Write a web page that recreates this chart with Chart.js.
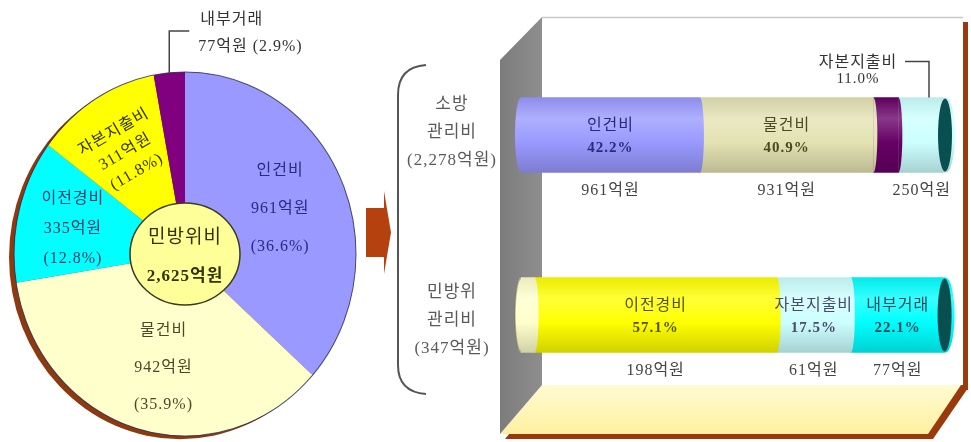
<!DOCTYPE html>
<html lang="ko">
<head>
<meta charset="utf-8">
<title>민방위비 세출 구성</title>
<script src="https://cdn.jsdelivr.net/npm/chart.js@4.4.1/dist/chart.umd.min.js"></script>
<style>
  html, body { margin: 0; padding: 0; background: #fff; }
  #wrap { position: relative; width: 971px; height: 442px; overflow: hidden; }
  #wrap canvas { position: absolute; left: 0; top: 0; }
</style>
</head>
<body>
<div id="wrap">
  <canvas id="barChart" width="971" height="442"></canvas>
  <canvas id="pieChart" width="380" height="442"></canvas>
</div>
<script>
// 민방위비 총괄 (억원)
const pieLabels = ['인건비', '물건비', '이전경비', '자본지출비', '내부거래'];
const pieValues = [961, 942, 335, 311, 77];
const piePercents = [36.6, 35.9, 12.8, 11.8, 2.9];
const pieColors = ['#9999FF', '#FFFFCC', '#00FFFF', '#FFFF00', '#800080'];
const pieTotal = 2625;

// 관리비별 구성비 (%)
const barCategories = ['소방관리비', '민방위관리비'];
const barTitles = [['소방', '관리비'], ['민방위', '관리비']];
const barTotals = [2278, 347];

const fireSegments = ['인건비', '물건비', '내부거래', '자본지출비'];
const firePercents = [42.2, 40.9, 5.9, 11.0];
const fireAmounts = [961, 931, 136, 250];
const fireColors = ['#9999FF', '#E4E2B2', '#660066', '#CCFFFF'];

const civilSegments = ['물건비', '이전경비', '자본지출비', '내부거래'];
const civilPercents = [3.2, 57.1, 17.5, 22.1];
const civilAmounts = [11, 198, 61, 77];
const civilColors = ['#FFFFCC', '#FFFF00', '#CCFFFF', '#00FFFF'];

const FONT = "'Liberation Serif', 'Noto Sans CJK KR', serif";
const pieStretch = 1.064;   // 원형을 세로로 약간 늘림

const fmt = n => n.toLocaleString('en-US');

function shade(hex, amt) {
    let r = parseInt(hex.slice(1, 3), 16), g = parseInt(hex.slice(3, 5), 16), b = parseInt(hex.slice(5, 7), 16);
    const t = amt > 0 ? 255 : 0, p = Math.abs(amt);
    r = Math.round(r + (t - r) * p); g = Math.round(g + (t - g) * p); b = Math.round(b + (t - b) * p);
    return `rgb(${r},${g},${b})`;
}

function drawLines(ctx, lines, x, y, gap, font, color) {
    ctx.font = font;
    ctx.fillStyle = color;
    ctx.textAlign = 'center';
    ctx.textBaseline = 'middle';
    const start = y - gap * (lines.length - 1) / 2;
    lines.forEach((t, i) => ctx.fillText(t, x, start + i * gap));
}

// ---------- 원그래프 ----------
const pieLabelRadius = [0.61, 0.64, 0.67, 0.66];
const pieLabelTurn = [0, -5, -2, 0];
const pieLabelGap = [38, 37, 30, 23];
const pieLabelTilt = [0, 0, 0, -30];
const pieTextColors = ['#2A2A80', '#4A4A2A', '#1E3A66', '#333300'];

const pieDecor = {
    id: 'pieDecor',
    beforeDatasetsDraw(chart) {
        const arc = chart.getDatasetMeta(0).data[0];
        const ctx = chart.ctx;
        ctx.save();
        ctx.translate(arc.x, arc.y);
        ctx.scale(1, pieStretch);
        ctx.translate(-arc.x, -arc.y);
        // 왼쪽 아래 갈색 테두리
        ctx.beginPath();
        ctx.arc(arc.x - 5, arc.y + 3, arc.outerRadius, 0, Math.PI * 2);
        ctx.fillStyle = '#8E3A10';
        ctx.fill();
    },
    afterDatasetsDraw(chart) {
        const meta = chart.getDatasetMeta(0);
        const arc = meta.data[0];
        const ctx = chart.ctx;
        const cx = arc.x, cy = arc.y, R = arc.outerRadius;
        ctx.beginPath();
        ctx.arc(cx, cy, R, 0, Math.PI * 2);
        ctx.lineWidth = 1;
        ctx.strokeStyle = 'rgba(40,40,80,0.8)';
        ctx.stroke();
        ctx.restore();

        // 가운데 원
        ctx.save();
        ctx.beginPath();
        ctx.ellipse(cx, cy, 55, 51, 0, 0, Math.PI * 2);
        ctx.fillStyle = '#FFFF99';
        ctx.fill();
        ctx.lineWidth = 1.5;
        ctx.strokeStyle = '#3A3A20';
        ctx.stroke();
        ctx.letterSpacing = '1px';
        drawLines(ctx, ['민방위비'], cx, cy - 16, 0, `19px ${FONT}`, '#333300');
        drawLines(ctx, [fmt(pieTotal) + '억원'], cx, cy + 23, 0, `bold 17px ${FONT}`, '#333300');

        // 조각 안 라벨
        meta.data.forEach((el, i) => {
            if (i > 3) return;
            const mid = (el.startAngle + el.endAngle) / 2 + pieLabelTurn[i] * Math.PI / 180;
            const r = R * pieLabelRadius[i];
            const px = cx + Math.cos(mid) * r;
            const py = cy + Math.sin(mid) * r * pieStretch;
            ctx.save();
            ctx.translate(px, py);
            ctx.rotate(pieLabelTilt[i] * Math.PI / 180);
            drawLines(ctx, [pieLabels[i], pieValues[i] + '억원', `(${piePercents[i]}%)`],
                0, 0, pieLabelGap[i], `16px ${FONT}`, pieTextColors[i]);
            ctx.restore();
        });

        // 내부거래: 바깥 라벨과 지시선
        const small = meta.data[4];
        const mid = (small.startAngle + small.endAngle) / 2;
        const ex = cx + Math.cos(mid) * R;
        const ey = cy + Math.sin(mid) * R * pieStretch;
        const top = 31;
        ctx.beginPath();
        ctx.moveTo(ex, ey);
        ctx.lineTo(ex, top);
        ctx.lineTo(ex + 20, top);
        ctx.lineWidth = 1.5;
        ctx.strokeStyle = '#444';
        ctx.stroke();
        ctx.font = `16px ${FONT}`;
        ctx.fillStyle = '#333';
        ctx.textAlign = 'left';
        ctx.textBaseline = 'middle';
        ctx.fillText(pieLabels[4], ex + 31, top - 11);
        ctx.fillText(`${pieValues[4]}억원 (${piePercents[4]}%)`, ex + 29, top + 16);
        ctx.restore();
    }
};

new Chart(document.getElementById('pieChart'), {
    type: 'pie',
    data: {
        labels: pieLabels,
        datasets: [{
            data: pieValues,
            backgroundColor: pieColors,
            borderWidth: 0,
            hoverBorderWidth: 0,
            hoverOffset: 0
        }]
    },
    options: {
        responsive: false,
        animation: false,
        events: [],
        layout: { padding: { left: 14, right: 24, top: 83, bottom: 17 } },
        plugins: { legend: { display: false }, tooltip: { enabled: false } }
    },
    plugins: [pieDecor]
});

// ---------- 원통 막대그래프 ----------
const segNames = [fireSegments, civilSegments];
const segPercents = [firePercents, civilPercents];
const segAmounts = [fireAmounts, civilAmounts];
const segColors = [fireColors, civilColors];
const segModes = [['inside', 'inside', 'none', 'callout'], ['none', 'inside', 'inside', 'inside']];
const segTextColors = [['#2A2A7A', '#4A4A22', '#fff', '#333'], ['#333', '#555500', '#4A4A6A', '#1A4A5A']];

function cylinderFill(chart, color, yc, h) {
    const g = chart.ctx.createLinearGradient(0, yc - h / 2, 0, yc + h / 2);
    g.addColorStop(0, shade(color, -0.08));
    g.addColorStop(0.28, shade(color, 0.22));
    g.addColorStop(0.6, color);
    g.addColorStop(1, shade(color, -0.18));
    return g;
}

function drawBox(ctx) {
    // 그림자 (갈색 테두리)
    ctx.fillStyle = '#9A3A0C';
    ctx.fillRect(547, 22, 421, 368);
    ctx.beginPath();
    ctx.moveTo(547, 388); ctx.lineTo(968, 388); ctx.lineTo(933, 439); ctx.lineTo(505, 439);
    ctx.closePath();
    ctx.fill();
    // 뒷벽
    ctx.fillStyle = '#fff';
    ctx.fillRect(542, 17, 421, 368);
    ctx.strokeStyle = '#C8C8C8';
    ctx.lineWidth = 1.5;
    ctx.beginPath(); ctx.moveTo(542, 17.5); ctx.lineTo(963, 17.5); ctx.stroke();
    // 바닥
    const fg = ctx.createLinearGradient(0, 385, 0, 434);
    fg.addColorStop(0, '#FFFBD2');
    fg.addColorStop(1, '#FFF0A0');
    ctx.fillStyle = fg;
    ctx.beginPath();
    ctx.moveTo(542, 385); ctx.lineTo(961, 385); ctx.lineTo(928, 434); ctx.lineTo(500, 434);
    ctx.closePath();
    ctx.fill();
    // 왼쪽 벽
    const wg = ctx.createLinearGradient(500, 0, 542, 0);
    wg.addColorStop(0, '#7C7C7C');
    wg.addColorStop(1, '#8E8E8E');
    ctx.fillStyle = wg;
    ctx.beginPath();
    ctx.moveTo(500, 60); ctx.lineTo(542, 17); ctx.lineTo(542, 385); ctx.lineTo(500, 434);
    ctx.closePath();
    ctx.fill();
    // 화살표
    ctx.fillStyle = '#B5420E';
    ctx.fillRect(366, 208, 19, 49);
    ctx.beginPath();
    ctx.moveTo(384, 191); ctx.lineTo(391, 232.5); ctx.lineTo(384, 274);
    ctx.closePath();
    ctx.fill();
    // 괄호
    ctx.strokeStyle = '#555';
    ctx.lineWidth = 2;
    ctx.beginPath();
    ctx.moveTo(426, 65);
    ctx.quadraticCurveTo(398, 67, 398, 95);
    ctx.lineTo(398, 365);
    ctx.quadraticCurveTo(398, 392, 426, 394);
    ctx.stroke();
}

const barDecor = {
    id: 'barDecor',
    beforeDraw(chart) {
        drawBox(chart.ctx);
    },
    afterDatasetsDraw(chart) {
        const ctx = chart.ctx;
        const n = chart.data.datasets.length;
        barCategories.forEach((cat, b) => {
            const els = [];
            for (let k = 0; k < n; k++) els.push(chart.getDatasetMeta(k).data[b]);
            const h = els[0].height, yc = els[0].y;
            const first = els[0], last = els[n - 1];

            ctx.save();
            // 구간 경계의 둥근 면
            for (let k = 0; k < n - 1; k++) {
                ctx.beginPath();
                ctx.ellipse(els[k].x, yc, 4, h / 2, 0, -Math.PI / 2, Math.PI / 2);
                ctx.fillStyle = els[k].options.backgroundColor;
                ctx.fill();
            }
            // 왼쪽 끝
            ctx.beginPath();
            ctx.ellipse(first.base, yc, 6, h / 2, 0, 0, Math.PI * 2);
            ctx.fillStyle = first.options.backgroundColor;
            ctx.fill();
            if (b === 1) {
                ctx.beginPath();
                ctx.ellipse(first.base, yc, 6, h / 2 - 1, 0, Math.PI / 2, Math.PI * 1.5);
                ctx.strokeStyle = 'rgba(120,120,80,0.45)';
                ctx.lineWidth = 1.5;
                ctx.stroke();
            }
            // 오른쪽 끝
            ctx.beginPath();
            ctx.ellipse(last.x + 1, yc, 9, h / 2, 0, 0, Math.PI * 2);
            ctx.fillStyle = last.options.backgroundColor;
            ctx.fill();
            ctx.beginPath();
            ctx.ellipse(last.x, yc, 7, h / 2 - 1, 0, 0, Math.PI * 2);
            ctx.fillStyle = '#0A4F4F';
            ctx.fill();

            // 라벨
            ctx.letterSpacing = '1px';
            els.forEach((el, k) => {
                const mode = segModes[b][k];
                if (mode === 'none') return;
                const cxSeg = (el.x + el.base) / 2;
                if (mode === 'inside') {
                    drawLines(ctx, [segNames[b][k]], cxSeg, yc - 9, 0, `16px ${FONT}`, segTextColors[b][k]);
                    drawLines(ctx, [segPercents[b][k].toFixed(1) + '%'], cxSeg, yc + 13, 0, `bold 15px ${FONT}`, segTextColors[b][k]);
                } else {
                    // 위쪽 지시선 라벨
                    const lx = el.x - 16, ly = yc - h / 2;
                    ctx.beginPath();
                    ctx.moveTo(lx - 24, ly - 36);
                    ctx.lineTo(lx, ly - 36);
                    ctx.lineTo(lx, ly);
                    ctx.strokeStyle = '#444';
                    ctx.lineWidth = 1.5;
                    ctx.stroke();
                    drawLines(ctx, [segNames[b][k]], lx - 71, ly - 35, 0, `16px ${FONT}`, '#333');
                    drawLines(ctx, [segPercents[b][k].toFixed(1) + '%'], lx - 71, ly - 18, 0, `15px ${FONT}`, '#333');
                }
                drawLines(ctx, [segAmounts[b][k] + '억원'], cxSeg, yc + h / 2 + 18, 0, `16px ${FONT}`, '#444');
            });

            // 항목 이름
            const title = barTitles[b].concat([`(${fmt(barTotals[b])}억원)`]);
            const shift = b === 0 ? -2 : 6;
            drawLines(ctx, title, 452, yc + shift, 28, `17px ${FONT}`, '#5A5A5A');
            ctx.restore();
        });
    }
};

new Chart(document.getElementById('barChart'), {
    type: 'bar',
    data: {
        labels: barCategories,
        datasets: fireSegments.map((name, k) => ({
            label: `${k + 1}`,
            data: [firePercents[k], civilPercents[k]],
            backgroundColor: ctx => {
                const color = segColors[ctx.dataIndex] ? segColors[ctx.dataIndex][k] : '#ccc';
                const chart = ctx.chart;
                if (ctx.type !== 'data' || !chart.chartArea || !chart.scales.y) return color;
                return cylinderFill(chart, color, chart.scales.y.getPixelForValue(ctx.dataIndex), 75);
            },
            borderWidth: 0,
            barThickness: 75
        }))
    },
    options: {
        responsive: false,
        animation: false,
        events: [],
        indexAxis: 'y',
        layout: { padding: { left: 521, right: 26, top: 45, bottom: 37 } },
        scales: {
            x: { display: false, stacked: true, min: 0, max: 100 },
            y: { display: false, stacked: true, grid: { display: false } }
        },
        plugins: { legend: { display: false }, tooltip: { enabled: false } }
    },
    plugins: [barDecor]
});
</script>
</body>
</html>
